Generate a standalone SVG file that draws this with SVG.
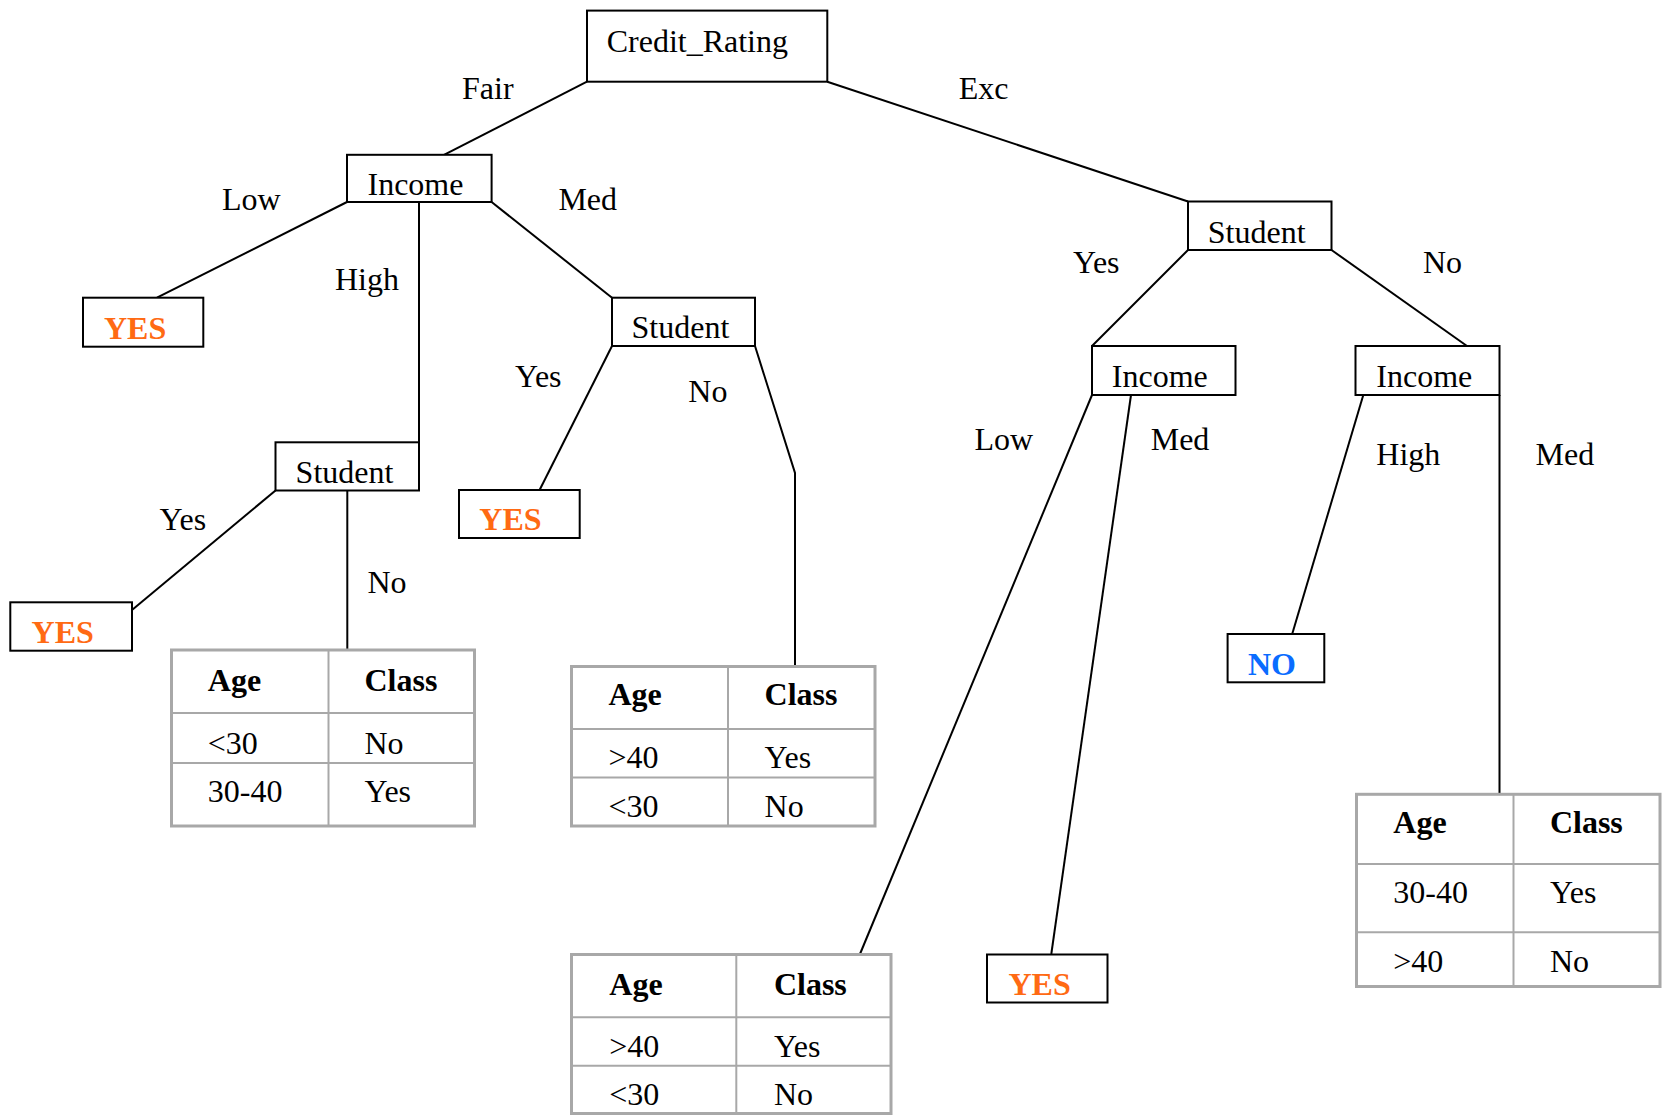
<svg xmlns="http://www.w3.org/2000/svg" width="1663" height="1115" viewBox="0 0 1663 1115">
  <style>
    text { font-family: "Liberation Serif", "Times New Roman", serif; font-size: 32px; fill: #000; }
    .box { fill: #fff; stroke: #000; stroke-width: 2; }
    .leaf { font-weight: bold; }
    .yes { fill: #ff6a13; }
    .no { fill: #0a6cff; }
    .edge { fill: none; stroke: #000; stroke-width: 2; }
    .tbl { fill: #fff; stroke: #a8a8a8; stroke-width: 3; }
    .grid { stroke: #a8a8a8; stroke-width: 2; }
    .hd { font-weight: bold; }
  </style>

  <rect width="1663" height="1115" fill="#fff"/>

  <!-- connectors -->
  <g id="connectors">
    <polyline class="edge" points="587,81.7 444,154.8"/>
    <polyline class="edge" points="827.3,81.7 1188,201.5"/>
    <polyline class="edge" points="347,202 157,297.7"/>
    <polyline class="edge" points="419,202 419,442.3"/>
    <polyline class="edge" points="491.6,202 612,297.7"/>
    <polyline class="edge" points="275.5,490.5 132,610"/>
    <polyline class="edge" points="347.3,490.5 347.3,650"/>
    <polyline class="edge" points="612,346 539.6,490"/>
    <polyline class="edge" points="755,346 795,473 795,666.5"/>
    <polyline class="edge" points="1188,250 1092,346"/>
    <polyline class="edge" points="1331.5,250 1467,346"/>
    <polyline class="edge" points="1092,395 860,954"/>
    <polyline class="edge" points="1131,395 1051.3,954"/>
    <polyline class="edge" points="1363.3,395 1292.2,634"/>
    <polyline class="edge" points="1499.5,395 1499.5,794.3"/>
  </g>

  <!-- branch labels -->
  <g id="edge-labels">
    <text x="462" y="98.5">Fair</text>
    <text x="958.8" y="98.5">Exc</text>
    <text x="222" y="210">Low</text>
    <text x="335" y="290">High</text>
    <text x="558.4" y="210">Med</text>
    <text x="159.6" y="530">Yes</text>
    <text x="367.4" y="593.3">No</text>
    <text x="515" y="386.7">Yes</text>
    <text x="688.3" y="402.3">No</text>
    <text x="1073" y="273.3">Yes</text>
    <text x="1423" y="273.3">No</text>
    <text x="974.4" y="450">Low</text>
    <text x="1150.7" y="450">Med</text>
    <text x="1376.3" y="465">High</text>
    <text x="1535.5" y="465">Med</text>
  </g>

  <!-- decision nodes -->
  <g id="root-credit-rating">
    <rect class="box" x="587" y="10.6" width="240.3" height="71.1"/>
    <text x="606.7" y="52">Credit_Rating</text>
  </g>
  <g id="income-fair">
    <rect class="box" x="347" y="154.8" width="144.6" height="47.2"/>
    <text x="367.5" y="195">Income</text>
  </g>
  <g id="student-high">
    <rect class="box" x="275.5" y="442.3" width="143.5" height="48.2"/>
    <text x="295.6" y="483.3">Student</text>
  </g>
  <g id="student-med">
    <rect class="box" x="612" y="297.7" width="143" height="48.3"/>
    <text x="631.5" y="338">Student</text>
  </g>
  <g id="student-exc">
    <rect class="box" x="1188" y="201.5" width="143.5" height="48.5"/>
    <text x="1207.8" y="243.3">Student</text>
  </g>
  <g id="income-yes">
    <rect class="box" x="1092" y="346" width="143.5" height="49"/>
    <text x="1111.8" y="386.7">Income</text>
  </g>
  <g id="income-no">
    <rect class="box" x="1355.5" y="346" width="144" height="49"/>
    <text x="1376.3" y="386.7">Income</text>
  </g>

  <!-- leaf nodes -->
  <g id="leaf-yes-low">
    <rect class="box" x="83" y="297.7" width="120.3" height="49"/>
    <text class="leaf yes" x="104" y="339.3">YES</text>
  </g>
  <g id="leaf-yes-student">
    <rect class="box" x="10.3" y="602.3" width="121.7" height="48.4"/>
    <text class="leaf yes" x="31.6" y="642.7">YES</text>
  </g>
  <g id="leaf-yes-med">
    <rect class="box" x="459" y="490" width="120.7" height="48"/>
    <text class="leaf yes" x="479.3" y="530">YES</text>
  </g>
  <g id="leaf-yes-exc-med">
    <rect class="box" x="987" y="954.5" width="120.5" height="48"/>
    <text class="leaf yes" x="1008.5" y="995">YES</text>
  </g>
  <g id="leaf-no-high">
    <rect class="box" x="1227.6" y="634" width="96.7" height="48.3"/>
    <text class="leaf no" x="1248" y="675">NO</text>
  </g>

  <!-- class tables -->
  <g id="table-high-no">
    <rect class="tbl" x="171.5" y="650" width="303" height="176"/>
    <line class="grid" x1="328.5" y1="650" x2="328.5" y2="826"/>
    <line class="grid" x1="171.5" y1="713" x2="474.5" y2="713"/>
    <line class="grid" x1="171.5" y1="763" x2="474.5" y2="763"/>
    <text class="hd" x="207.8" y="690.5">Age</text>
    <text class="hd" x="364.5" y="690.5">Class</text>
    <text x="207.8" y="753.5">&lt;30</text>
    <text x="364.5" y="753.5">No</text>
    <text x="207.8" y="802">30-40</text>
    <text x="364.5" y="802">Yes</text>
  </g>
  <g id="table-med-no">
    <rect class="tbl" x="571.5" y="666.5" width="303.5" height="159.5"/>
    <line class="grid" x1="728" y1="666.5" x2="728" y2="826"/>
    <line class="grid" x1="571.5" y1="729" x2="875" y2="729"/>
    <line class="grid" x1="571.5" y1="777.5" x2="875" y2="777.5"/>
    <text class="hd" x="608.4" y="705">Age</text>
    <text class="hd" x="764.6" y="705">Class</text>
    <text x="608.4" y="768.3">&gt;40</text>
    <text x="764.6" y="768.3">Yes</text>
    <text x="608.4" y="816.7">&lt;30</text>
    <text x="764.6" y="816.7">No</text>
  </g>
  <g id="table-exc-low">
    <rect class="tbl" x="571.5" y="954.5" width="319.5" height="159"/>
    <line class="grid" x1="736.3" y1="954.5" x2="736.3" y2="1113.5"/>
    <line class="grid" x1="571.5" y1="1017.3" x2="891" y2="1017.3"/>
    <line class="grid" x1="571.5" y1="1065.7" x2="891" y2="1065.7"/>
    <text class="hd" x="609.3" y="995">Age</text>
    <text class="hd" x="773.9" y="995">Class</text>
    <text x="609.3" y="1057.3">&gt;40</text>
    <text x="773.9" y="1057.3">Yes</text>
    <text x="609.3" y="1105">&lt;30</text>
    <text x="773.9" y="1105">No</text>
  </g>
  <g id="table-exc-no-med">
    <rect class="tbl" x="1356.5" y="794.3" width="303.5" height="192.2"/>
    <line class="grid" x1="1513.5" y1="794.3" x2="1513.5" y2="986.5"/>
    <line class="grid" x1="1356.5" y1="864" x2="1660" y2="864"/>
    <line class="grid" x1="1356.5" y1="932.3" x2="1660" y2="932.3"/>
    <text class="hd" x="1393.3" y="833.3">Age</text>
    <text class="hd" x="1549.9" y="833.3">Class</text>
    <text x="1393.3" y="903.3">30-40</text>
    <text x="1549.9" y="903.3">Yes</text>
    <text x="1393.3" y="971.7">&gt;40</text>
    <text x="1549.9" y="971.7">No</text>
  </g>
</svg>
